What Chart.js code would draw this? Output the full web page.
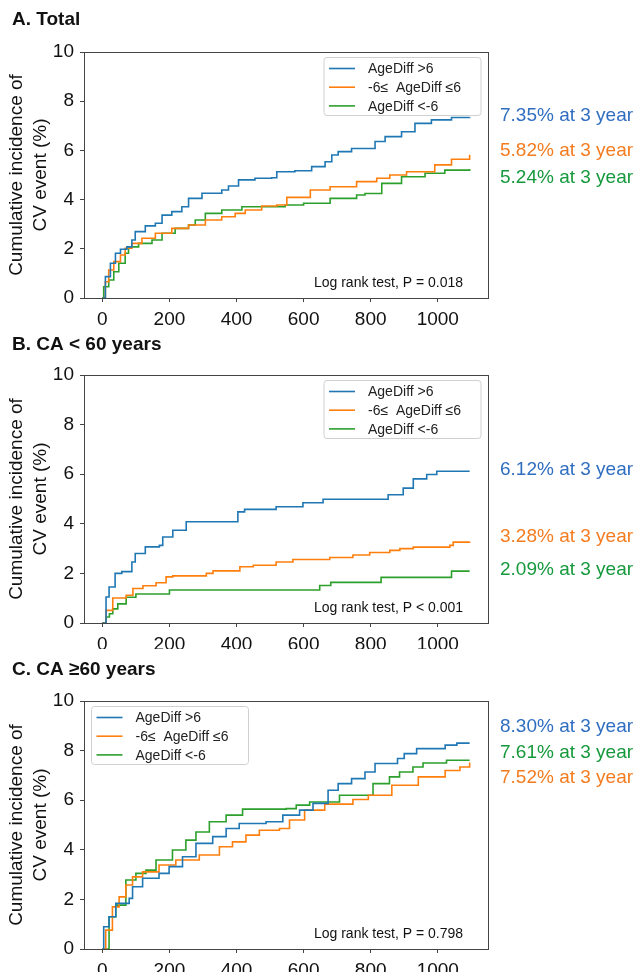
<!DOCTYPE html>
<html>
<head>
<meta charset="utf-8">
<title>Cumulative incidence of CV event by AgeDiff</title>
<script src="https://cdn.jsdelivr.net/npm/chart.js"></script>
<style>
  body { margin: 0; background: #fff; }
  .panel { position: absolute; left: 0; width: 638px; }
</style>
</head>
<body>
<div class="panel" style="top:0px"><canvas id="chartA" width="638" height="325"></canvas></div>
<div class="panel" style="top:324px"><canvas id="chartB" width="638" height="325"></canvas></div>
<div class="panel" style="top:650px"><canvas id="chartC" width="638" height="322"></canvas></div>
<script>
// ---- data (days, cumulative incidence %) ----
const seriesLabels = ['AgeDiff >6', '-6\u2264  AgeDiff \u22646', 'AgeDiff <-6'];
const seriesColors = ['#1f77b4', '#ff7f0e', '#2ca02c'];
const noteColors = ['#2f6ec0', '#f47c20', '#16993c'];
const xTicks = [0, 200, 400, 600, 800, 1000];
const yTicks = [0, 2, 4, 6, 8, 10];

// A. Total
const totalHighT = [0, 9, 24, 39, 54, 73, 88, 98, 128, 158, 178, 207, 237, 257, 297, 356, 376, 406, 455, 505, 520, 574, 624, 664, 684, 703, 743, 813, 843, 892, 932, 981, 1041, 1095];
const totalHighV = [0, 0.87, 1.41, 1.82, 1.98, 2.08, 2.36, 2.7, 2.93, 3.04, 3.37, 3.51, 3.71, 4.05, 4.26, 4.39, 4.55, 4.8, 4.87, 4.89, 5.13, 5.17, 5.34, 5.54, 5.81, 5.95, 6.08, 6.36, 6.56, 6.76, 7.1, 7.24, 7.34, 7.35];
const totalMidT = [0, 9, 19, 34, 54, 68, 88, 118, 158, 207, 257, 307, 356, 396, 426, 475, 520, 550, 620, 679, 758, 818, 857, 907, 991, 1041, 1095];
const totalMidV = [0, 0.66, 1.14, 1.48, 1.75, 2.02, 2.22, 2.43, 2.63, 2.83, 2.97, 3.17, 3.3, 3.44, 3.58, 3.74, 3.78, 4.09, 4.39, 4.52, 4.73, 4.87, 5.0, 5.13, 5.41, 5.64, 5.82];
const totalLowT = [0, 4, 19, 34, 49, 68, 78, 108, 148, 178, 217, 257, 277, 307, 356, 416, 545, 600, 679, 758, 783, 833, 892, 962, 1021, 1095];
const totalLowV = [0, 0.46, 0.73, 1.07, 1.41, 1.82, 2.08, 2.22, 2.36, 2.63, 2.83, 2.97, 3.17, 3.44, 3.58, 3.71, 3.78, 3.85, 4.05, 4.19, 4.25, 4.66, 4.93, 5.07, 5.2, 5.24];
const totalAt3y = [7.35, 5.82, 5.24];

// B. CA < 60 years
const youngHighT = [0, 11, 20, 38, 58, 88, 98, 128, 170, 180, 210, 250, 389, 404, 424, 518, 598, 658, 852, 897, 927, 967, 997, 1095];
const youngHighV = [0, 1.05, 1.45, 2.0, 2.07, 2.46, 2.8, 3.07, 3.13, 3.47, 3.74, 4.08, 4.08, 4.48, 4.58, 4.69, 4.85, 4.99, 5.17, 5.44, 5.81, 5.99, 6.12, 6.12];
const youngMidT = [0, 11, 31, 71, 91, 121, 160, 190, 210, 310, 330, 410, 450, 518, 568, 678, 747, 797, 857, 887, 927, 1036, 1046, 1095];
const youngMidV = [0, 0.51, 1.01, 1.12, 1.39, 1.5, 1.62, 1.86, 1.9, 2.0, 2.1, 2.27, 2.33, 2.46, 2.56, 2.64, 2.74, 2.84, 2.93, 3.0, 3.06, 3.13, 3.26, 3.28];
const youngLowT = [0, 11, 21, 31, 46, 71, 100, 200, 648, 681, 831, 1041, 1095];
const youngLowV = [0, 0.24, 0.37, 0.57, 0.77, 1.04, 1.17, 1.33, 1.51, 1.64, 1.84, 2.09, 2.09];
const youngAt3y = [6.12, 3.28, 2.09];

// C. CA >= 60 years
const olderHighT = [0, 4, 20, 40, 80, 90, 120, 169, 199, 239, 279, 329, 369, 408, 488, 538, 588, 628, 673, 703, 743, 783, 813, 880, 900, 937, 1022, 1057, 1095];
const olderHighV = [0, 0.9, 1.3, 1.84, 2.04, 2.51, 2.85, 3.05, 3.32, 3.72, 4.26, 4.53, 4.86, 5.06, 5.13, 5.4, 5.6, 5.87, 6.4, 6.67, 6.87, 7.14, 7.48, 7.68, 7.88, 8.08, 8.22, 8.3, 8.3];
const olderMidT = [0, 10, 30, 50, 70, 90, 120, 169, 219, 289, 349, 388, 428, 468, 528, 558, 603, 663, 747, 793, 863, 942, 1022, 1066, 1095];
const olderMidV = [0, 0.76, 1.7, 2.1, 2.58, 2.91, 3.11, 3.39, 3.59, 3.79, 4.12, 4.32, 4.59, 4.79, 4.86, 5.2, 5.6, 5.84, 6.03, 6.2, 6.6, 6.94, 7.2, 7.34, 7.52];
const olderLowT = [0, 20, 40, 70, 100, 130, 160, 209, 249, 279, 319, 369, 418, 548, 578, 618, 707, 777, 807, 856, 886, 926, 956, 1026, 1095];
const olderLowV = [0, 1.3, 1.77, 2.78, 3.05, 3.18, 3.59, 3.99, 4.39, 4.72, 5.13, 5.4, 5.64, 5.66, 5.8, 5.93, 6.2, 6.2, 6.67, 6.94, 7.14, 7.34, 7.5, 7.61, 7.61];
const olderAt3y = [8.30, 7.52, 7.61];

const FONT = '"Liberation Sans", Arial, sans-serif';
Chart.defaults.font.family = FONT;
Chart.defaults.color = '#111';

// noteY: where each "x% at 3 year" line sits, in y-axis units
const panels = [
  { id: 'chartA', title: 'A. Total', titleY: 20, plotTop: 52, xAxisH: 27,
    series: [[totalHighT, totalHighV], [totalMidT, totalMidV], [totalLowT, totalLowV]],
    at3y: totalAt3y, noteY: [7.4, 6.0, 4.88], pval: 'Log rank test, P = 0.018', legendLeft: false },
  { id: 'chartB', title: 'B. CA < 60 years', titleY: 21, plotTop: 51, xAxisH: 26,
    series: [[youngHighT, youngHighV], [youngMidT, youngMidV], [youngLowT, youngLowV]],
    at3y: youngAt3y, noteY: [6.16, 3.47, 2.13], pval: 'Log rank test, P < 0.001', legendLeft: false },
  { id: 'chartC', title: 'C. CA \u226560 years', titleY: 20, plotTop: 51, xAxisH: 23,
    series: [[olderHighT, olderHighV], [olderMidT, olderMidV], [olderLowT, olderLowV]],
    at3y: olderAt3y, noteY: [8.95, 6.91, 7.9], pval: 'Log rank test, P = 0.798', legendLeft: true }
];

// title, frame, legend box, 3-year notes and log rank text
const panelDecor = {
  id: 'panelDecor',
  afterDraw(chart, args, opts) {
    const { ctx, chartArea: a } = chart;
    const y = chart.scales.y;
    ctx.save();
    ctx.strokeStyle = '#444';
    ctx.lineWidth = 1;
    ctx.strokeRect(Math.round(a.left) + 0.5, Math.round(a.top) + 0.5,
      Math.round(a.right - a.left), Math.round(a.bottom - a.top));

    ctx.fillStyle = '#111';
    ctx.font = 'bold 19px ' + FONT;
    ctx.textBaseline = 'middle';
    ctx.textAlign = 'left';
    ctx.fillText(opts.title, 12, opts.titleY);

    // legend
    const bw = 157, bh = 58;
    const bx = opts.legendLeft ? a.left + 7.5 : a.right - 164;
    const by = a.top + 5.5;
    ctx.fillStyle = 'rgba(255,255,255,0.85)';
    ctx.strokeStyle = '#d0d0d0';
    ctx.beginPath();
    ctx.roundRect(bx, by, bw, bh, 3);
    ctx.fill();
    ctx.stroke();
    ctx.font = '14px ' + FONT;
    chart.data.datasets.forEach((ds, i) => {
      const ry = by + 11 + i * 18.7;
      ctx.strokeStyle = ds.borderColor;
      ctx.lineWidth = 1.6;
      ctx.beginPath();
      ctx.moveTo(bx + 5, ry);
      ctx.lineTo(bx + 31, ry);
      ctx.stroke();
      ctx.fillStyle = '#222';
      ctx.fillText(ds.label, bx + 44, ry + 1);
    });

    // 3-year notes, one per series
    ctx.font = '19px ' + FONT;
    opts.at3y.forEach((v, i) => {
      ctx.fillStyle = noteColors[i];
      ctx.fillText(v.toFixed(2) + '% at 3 year', 500, y.getPixelForValue(opts.noteY[i]));
    });

    ctx.fillStyle = '#111';
    ctx.font = '14px ' + FONT;
    ctx.textAlign = 'right';
    ctx.fillText(opts.pval, a.right - 25, a.bottom - 15);
    ctx.restore();
  }
};

panels.forEach(p => {
  new Chart(document.getElementById(p.id), {
    type: 'line',
    data: {
      datasets: p.series.map(([t, v], i) => ({
        label: seriesLabels[i],
        data: t.map((d, k) => ({ x: d, y: v[k] })),
        borderColor: seriesColors[i],
        borderWidth: 1.6,
        pointRadius: 0,
        stepped: 'before',
        fill: false
      }))
    },
    options: {
      responsive: false,
      animation: false,
      layout: { padding: { left: 0, right: 150, top: p.plotTop, bottom: 0 } },
      plugins: {
        legend: { display: false },
        tooltip: { enabled: false },
        panelDecor: p
      },
      scales: {
        x: {
          type: 'linear',
          min: -54.75,
          max: 1149.75,
          afterBuildTicks: s => { s.ticks = xTicks.map(v => ({ value: v })); },
          afterFit: s => { s.height = p.xAxisH; },
          ticks: { font: { size: 19 }, color: '#111', padding: 6, maxRotation: 0, callback: v => String(v) },
          grid: { drawOnChartArea: false, drawTicks: true, tickLength: 4, color: '#444' },
          border: { display: false }
        },
        y: {
          min: 0,
          max: 10,
          afterBuildTicks: s => { s.ticks = yTicks.map(v => ({ value: v })); },
          afterFit: s => { s.width = 84; },
          ticks: { font: { size: 19 }, color: '#111', padding: 6, callback: v => String(v) },
          grid: { drawOnChartArea: false, drawTicks: true, tickLength: 4, color: '#444' },
          border: { display: false },
          title: {
            display: true,
            text: ['Cumulative incidence of', 'CV event (%)'],
            font: { size: 19, lineHeight: 1.3 },
            color: '#111',
            padding: { top: 4, bottom: 0 }
          }
        }
      }
    },
    plugins: [panelDecor]
  });
});
</script>
</body>
</html>
